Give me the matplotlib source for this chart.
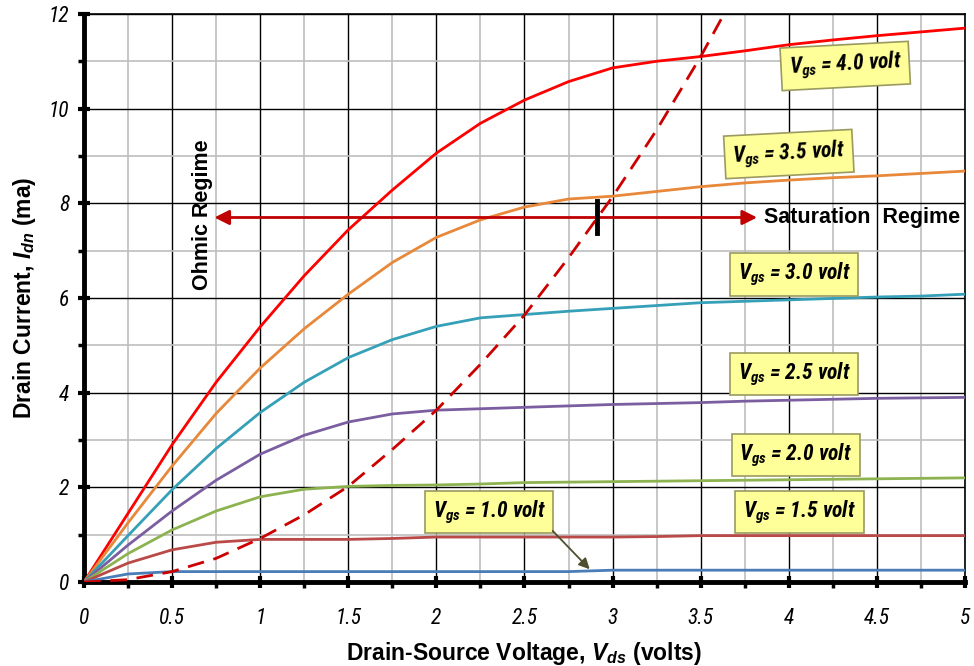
import matplotlib
matplotlib.use("Agg")
import matplotlib.pyplot as plt
from matplotlib.ticker import MultipleLocator
from matplotlib import font_manager

names = {f.name for f in font_manager.fontManager.ttflist}
narrow = "Liberation Sans"
for cand in ["Liberation Sans Narrow", "Roboto Condensed", "Open Sans Condensed",
             "Noto Sans Condensed", "DejaVu Sans Condensed"]:
    if cand in names:
        narrow = cand
        break

plt.rcParams["font.family"] = ["Liberation Sans", "DejaVu Sans"]
plt.rcParams["mathtext.fontset"] = "custom"
plt.rcParams["mathtext.rm"] = "Liberation Sans:bold"
plt.rcParams["mathtext.it"] = narrow + ":italic:bold"
plt.rcParams["mathtext.bf"] = "Liberation Sans:bold"
plt.rcParams["mathtext.bfit"] = "Liberation Sans:italic:bold"

# ---- data ----
vds = [0, 0.25, 0.5, 0.75, 1.0, 1.25, 1.5, 1.75, 2.0, 2.25, 2.5, 2.75,
       3.0, 3.25, 3.5, 3.75, 4.0, 4.25, 4.5, 4.75, 5.0]
i_vgs40 = [0, 1.45, 2.9, 4.22, 5.39, 6.47, 7.44, 8.28, 9.06, 9.69, 10.18, 10.57,
           10.86, 11.0, 11.1, 11.22, 11.35, 11.45, 11.54, 11.62, 11.7]
i_vgs35 = [0, 1.25, 2.45, 3.56, 4.52, 5.35, 6.08, 6.75, 7.28, 7.65, 7.92, 8.09,
           8.15, 8.25, 8.35, 8.43, 8.49, 8.54, 8.58, 8.63, 8.68]
i_vgs30 = [0, 0.98, 1.95, 2.82, 3.58, 4.22, 4.74, 5.12, 5.4, 5.58, 5.65, 5.72,
           5.78, 5.84, 5.9, 5.93, 5.96, 5.99, 6.02, 6.04, 6.08]
i_vgs25 = [0, 0.78, 1.5, 2.15, 2.7, 3.1, 3.38, 3.55, 3.63, 3.66, 3.69, 3.72,
           3.75, 3.77, 3.79, 3.82, 3.84, 3.86, 3.88, 3.89, 3.9]
i_vgs20 = [0, 0.6, 1.1, 1.5, 1.8, 1.96, 2.02, 2.04, 2.05, 2.07, 2.1, 2.11,
           2.12, 2.13, 2.14, 2.15, 2.16, 2.17, 2.18, 2.19, 2.2]
i_vgs15 = [0, 0.4, 0.68, 0.84, 0.9, 0.9, 0.9, 0.92, 0.95, 0.95, 0.95, 0.95,
           0.95, 0.96, 0.98, 0.98, 0.98, 0.98, 0.98, 0.98, 0.98]
i_vgs10 = [0, 0.17, 0.22, 0.22, 0.22, 0.22, 0.22, 0.22, 0.22, 0.22, 0.22, 0.22,
           0.25, 0.25, 0.25, 0.25, 0.25, 0.25, 0.25, 0.25, 0.25]

vds_sat = [0, 0.25, 0.5, 0.75, 1.0, 1.25, 1.5, 1.75, 2.0, 2.25, 2.5, 2.75,
           3.0, 3.25, 3.5, 3.75]
i_sat = [0, 0.05, 0.22, 0.5, 0.92, 1.42, 2.02, 2.8, 3.63, 4.6, 5.64, 6.85,
         8.14, 9.55, 11.1, 12.8]

curves = [
    (i_vgs40, "#FF0000", "4.0"),
    (i_vgs35, "#E8883A", "3.5"),
    (i_vgs30, "#35A0B8", "3.0"),
    (i_vgs25, "#7B5EA0", "2.5"),
    (i_vgs20, "#8DB350", "2.0"),
    (i_vgs15, "#B94A48", "1.5"),
    (i_vgs10, "#4A7DB8", "1.0"),
]

x_ticks = [0, 0.5, 1, 1.5, 2, 2.5, 3, 3.5, 4, 4.5, 5]
x_tick_labels = ["0", "0.5", "1", "1.5", "2", "2.5", "3", "3.5", "4", "4.5", "5"]
y_ticks = [0, 2, 4, 6, 8, 10, 12]
y_tick_labels = ["0", "2", "4", "6", "8", "10", "12"]

# ---- figure ----
fig = plt.figure(figsize=(9.74, 6.66), dpi=100)
ax = fig.add_axes([0.0862, 0.1261, 0.9046, 0.853])
ax.set_xlim(0, 5)
ax.set_ylim(0, 12)

ax.xaxis.set_minor_locator(MultipleLocator(0.25))
ax.yaxis.set_minor_locator(MultipleLocator(1))
ax.set_xticks(x_ticks)
ax.set_xticklabels(x_tick_labels)
ax.set_yticks(y_ticks)
ax.set_yticklabels(y_tick_labels)
ax.grid(which="minor", color="#BEBEBE", lw=1.2, zorder=0)
ax.grid(which="major", color="black", lw=1.0, zorder=0)
ax.set_axisbelow(True)

for s in ["top", "right"]:
    ax.spines[s].set_linewidth(1.2)
for s in ["left", "bottom"]:
    ax.spines[s].set_linewidth(3.5)

ax.tick_params(which="major", direction="inout", length=9, width=3,
               labelsize=15.5, pad=6)
ax.tick_params(which="minor", direction="out", length=4, width=2.5)
for lab in ax.get_xticklabels() + ax.get_yticklabels():
    lab.set_fontfamily(narrow)
    lab.set_fontstyle("italic")
ax.tick_params(axis="x", which="major", pad=14)

for ys, col, _ in curves:
    ax.plot(vds, ys, color=col, lw=2.0, zorder=3)

ax.plot(vds_sat, i_sat, color="#CC0000", lw=2.0, ls=(0, (6, 3.5)), zorder=4)

# regime arrow
ax.annotate("", xy=(0.74, 7.7), xytext=(3.82, 7.7),
            arrowprops=dict(arrowstyle="<|-|>", color="#C00000", lw=2.0,
                            mutation_scale=22, shrinkA=0, shrinkB=0), zorder=5)
ax.plot([2.914, 2.914], [7.37, 8.04], color="black", lw=3.5, zorder=6)
ax.text(0.675, 7.75, "Ohmic Regime", rotation=90, ha="center", va="center",
        fontsize=15.5, fontweight="bold", zorder=6)
ax.text(3.86, 7.7, "Saturation  Regime", ha="left", va="center",
        fontsize=15.5, fontweight="bold", zorder=6)

# labels with boxes
box = dict(boxstyle="square,pad=0.36", fc="#FFFF99", ec="#9A9A60", lw=1.2)
label_pos = {
    "4.0": (4.32, 10.9, 3),
    "3.5": (4.0, 9.04, 3),
    "3.0": (4.03, 6.5, 0),
    "2.5": (4.03, 4.39, 0),
    "2.0": (4.04, 2.68, 0),
    "1.5": (4.06, 1.48, 0),
    "1.0": (2.3, 1.48, 0),
}
for _, _, v in curves:
    x, y, rot = label_pos[v]
    ax.text(x, y, r"$V_{gs}$ = " + v + " volt", ha="center", va="center",
            fontsize=15.5, fontstyle="italic", fontweight="bold",
            fontfamily=narrow, rotation=rot, bbox=box, zorder=7)

ax.annotate("", xy=(2.87, 0.27), xytext=(2.66, 1.08),
            arrowprops=dict(arrowstyle="-|>", color="#4F4F2F", lw=1.3,
                            mutation_scale=16, shrinkA=0, shrinkB=0), zorder=7)

ax.set_xlabel(r"Drain-Source Voltage, $\mathbfit{V}_{\mathbfit{ds}}$ (volts)",
              fontsize=16.5, fontweight="bold", labelpad=8)
ax.set_ylabel(r"Drain Current, $\mathbfit{I}_{\mathbfit{dn}}$ (ma)",
              fontsize=16.5, fontweight="bold", labelpad=8)

fig.savefig("out.png", dpi=100)
